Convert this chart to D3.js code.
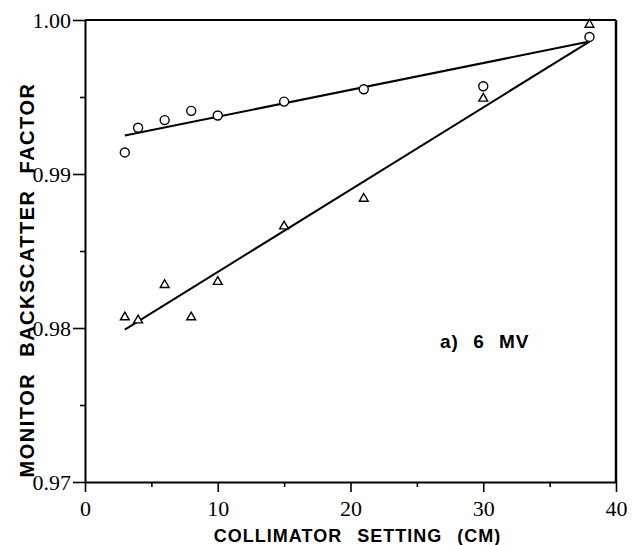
<!DOCTYPE html>
<html lang="en">
<head>
  <meta charset="UTF-8">
  <script src="https://d3js.org/d3.v7.min.js"></script>
  <style>
    body { margin: 0; background: #fff; }
    svg { display: block; }
  </style>
</head>
<body>
  <script>
    const width = 632;
    const height = 545;

    // data
    const collimator = [3, 4, 6, 8, 10, 15, 21, 30, 38];
    const circleValues = [0.9914, 0.9930, 0.9935, 0.9941, 0.9938, 0.9947, 0.9955, 0.9957, 0.9989];
    const triangleValues = [0.9807, 0.9805, 0.9828, 0.9807, 0.9830, 0.9866, 0.9884, 0.9949, 0.9997];
    const fitX = [3, 38];
    const circleFit = [0.9925, 0.9986];
    const triangleFit = [0.9799, 0.9986];
    const xMajor = [0, 10, 20, 30, 40];
    const xMinor = [5, 15, 25, 35];
    const yMajor = [0.97, 0.98, 0.99, 1.00];
    const yMinor = [0.975, 0.985, 0.995];

    const serif = "'Liberation Serif', 'Times New Roman', serif";
    const sans = "'Liberation Sans', Arial, Helvetica, sans-serif";

    const x = d3.scaleLinear().domain([0, 40]).range([85, 616]);
    const y = d3.scaleLinear().domain([0.97, 1.00]).range([482, 20]);

    const svg = d3.select("body")
      .append("svg")
      .attr("width", width)
      .attr("height", height);

    // frame (top and right sides)
    svg.append("line")
      .attr("x1", x(0)).attr("x2", x(40))
      .attr("y1", y(1)).attr("y2", y(1))
      .attr("stroke", "#000").attr("stroke-width", 2);
    svg.append("line")
      .attr("x1", x(40)).attr("x2", x(40))
      .attr("y1", y(1)).attr("y2", y(0.97))
      .attr("stroke", "#000").attr("stroke-width", 2.5);

    // x axis
    svg.append("g")
      .attr("transform", `translate(0,${y(0.97)})`)
      .call(d3.axisBottom(x).tickValues(xMajor).tickSize(10).tickSizeOuter(0).tickPadding(8));
    svg.append("g")
      .attr("transform", `translate(0,${y(0.97)})`)
      .call(d3.axisBottom(x).tickValues(xMinor).tickSize(5).tickFormat(""))
      .call(g => g.select(".domain").remove());

    // y axis
    svg.append("g")
      .attr("transform", `translate(${x(0)},0)`)
      .call(d3.axisLeft(y).tickValues(yMajor).tickSize(12).tickSizeOuter(0).tickPadding(2)
        .tickFormat(d3.format(".2f")));
    svg.append("g")
      .attr("transform", `translate(${x(0)},0)`)
      .call(d3.axisLeft(y).tickValues(yMinor).tickSize(5).tickFormat(""))
      .call(g => g.select(".domain").remove());

    svg.selectAll(".domain").attr("stroke-width", 2).attr("stroke", "#000");
    svg.selectAll(".tick line").attr("stroke-width", 1.6).attr("stroke", "#000");
    svg.selectAll(".tick text")
      .attr("fill", "#000")
      .attr("font-family", serif)
      .attr("font-size", 22)
      .style("font-family", serif)
      .style("font-size", "22px");

    // fitted lines
    const line = d3.line().x(d => x(d[0])).y(d => y(d[1]));
    [circleFit, triangleFit].forEach(fit => {
      svg.append("path")
        .datum(fitX.map((v, i) => [v, fit[i]]))
        .attr("d", line)
        .attr("fill", "none")
        .attr("stroke", "#000")
        .attr("stroke-width", 2);
    });

    // circles
    svg.selectAll("circle.pt")
      .data(collimator.map((v, i) => [v, circleValues[i]]))
      .enter()
      .append("circle")
      .attr("class", "pt")
      .attr("cx", d => x(d[0]))
      .attr("cy", d => y(d[1]))
      .attr("r", 4.5)
      .attr("fill", "#fff")
      .attr("stroke", "#000")
      .attr("stroke-width", 1.4);

    // triangles
    svg.selectAll("path.tri")
      .data(collimator.map((v, i) => [v, triangleValues[i]]))
      .enter()
      .append("path")
      .attr("class", "tri")
      .attr("transform", d => `translate(${x(d[0])},${y(d[1])})`)
      .attr("d", d3.symbol(d3.symbolTriangle, 34))
      .attr("fill", "#fff")
      .attr("stroke", "#000")
      .attr("stroke-width", 1.4);

    // axis titles
    svg.append("text")
      .attr("x", 357.5)
      .attr("y", 542)
      .attr("text-anchor", "middle")
      .style("font-family", sans)
      .style("font-weight", "bold")
      .style("font-size", "18px")
      .style("letter-spacing", "1px")
      .style("word-spacing", "9px")
      .text("COLLIMATOR SETTING (CM)");

    svg.append("text")
      .attr("transform", "translate(34,280) rotate(-90)")
      .attr("text-anchor", "middle")
      .style("font-family", sans)
      .style("font-weight", "bold")
      .style("font-size", "20px")
      .style("letter-spacing", "1.5px")
      .style("word-spacing", "9px")
      .text("MONITOR BACKSCATTER FACTOR");

    svg.append("text")
      .attr("x", 440)
      .attr("y", 348)
      .style("font-family", sans)
      .style("font-weight", "bold")
      .style("font-size", "19px")
      .style("letter-spacing", "1px")
      .style("word-spacing", "8px")
      .text("a) 6 MV");
  </script>
</body>
</html>
